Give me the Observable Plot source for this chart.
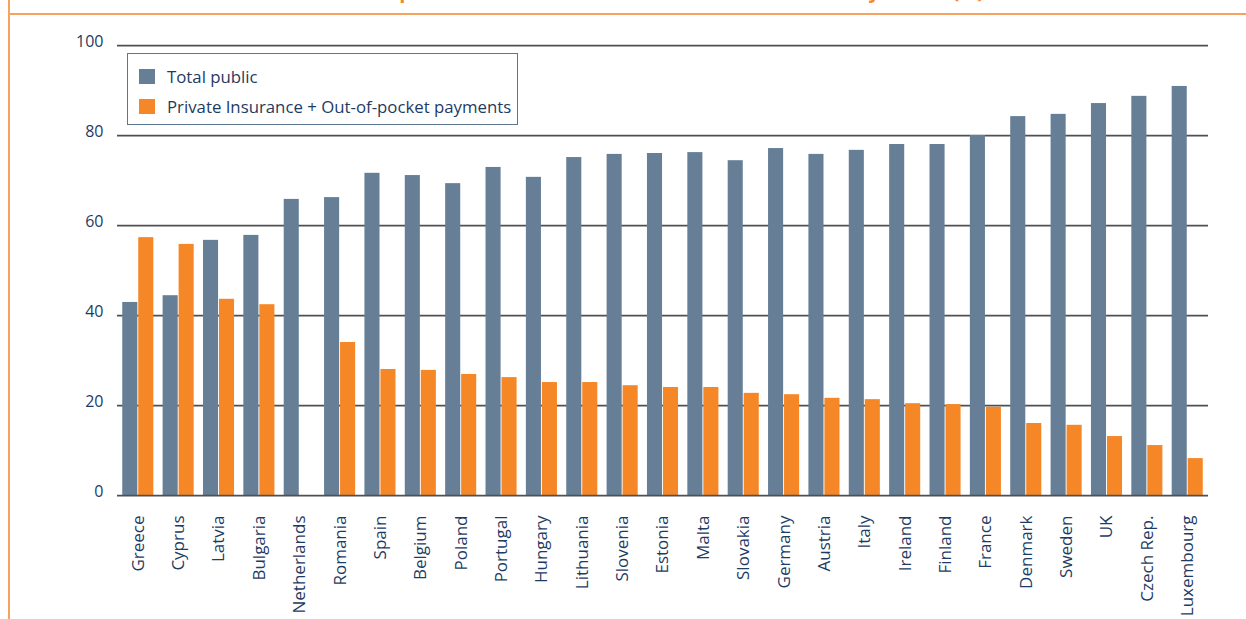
<!DOCTYPE html>
<html>
<head>
<meta charset="utf-8">
<script src="https://cdn.jsdelivr.net/npm/d3@7"></script>
<script src="https://cdn.jsdelivr.net/npm/@observablehq/plot@0.6"></script>
<style>
  html, body { margin: 0; padding: 0; background: #ffffff; }
  #wrap { position: relative; width: 1246px; height: 619px; overflow: hidden; font-family: "Open Sans", "Noto Sans", sans-serif; }
  #vline { position: absolute; left: 8px; top: 0; width: 2px; height: 619px; background: #f5a35e; }
  #hline { position: absolute; left: 9px; top: 13px; width: 1237px; height: 2px; background: #f5a35e; }
  #title { position: absolute; right: 262px; top: -19px; font-size: 20px; line-height: 20px; font-weight: bold; color: #f58727; white-space: nowrap; }
  #chart { position: absolute; left: 0; top: 0; }
  #legend { position: absolute; left: 127px; top: 53px; width: 391px; height: 72px; border: 1px solid #5d7792; background: #fff; box-sizing: border-box; }
  .row { position: absolute; left: 11px; height: 16px; display: flex; align-items: center; font-size: 16.8px; color: #1d3b63; white-space: nowrap; }
  .sw { width: 16px; height: 15px; margin-right: 12px; flex: none; }
</style>
</head>
<body>
<div id="wrap">
  <div id="vline"></div>
  <div id="hline"></div>
  <div id="title">Total expenditure on health in the EU Member States by sector (%)</div>
  <div id="chart"></div>
  <div id="legend"></div>
</div>
<script>
const countries = ["Greece","Cyprus","Latvia","Bulgaria","Netherlands","Romania","Spain","Belgium","Poland","Portugal","Hungary","Lithuania","Slovenia","Estonia","Malta","Slovakia","Germany","Austria","Italy","Ireland","Finland","France","Denmark","Sweden","UK","Czech Rep.","Luxembourg"];
const totalPublic = [42.9,44.4,56.7,57.8,65.8,66.2,71.6,71.1,69.3,72.9,70.7,75.1,75.8,76.0,76.2,74.4,77.1,75.8,76.7,78.0,78.0,80.0,84.2,84.7,87.1,88.7,90.9];
const privateOOP = [57.3,55.8,43.6,42.4,null,34.0,28.0,27.8,26.9,26.2,25.1,25.1,24.4,24.0,24.0,22.7,22.4,21.6,21.3,20.4,20.2,19.6,16.0,15.6,13.1,11.1,8.2];
const seriesNames = ["Total public", "Private Insurance + Out-of-pocket payments"];
const seriesColors = ["#667f97", "#f58727"];
const yTicks = [0, 20, 40, 60, 80, 100];

const data = countries.map((c, i) => ({country: c, pub: totalPublic[i], priv: privateOOP[i]}));
const textColor = "#1d3b63";

const chart = Plot.plot({
  width: 1246,
  height: 619,
  marginLeft: 117,
  marginRight: 38,
  marginTop: 45,
  marginBottom: 124,
  style: {fontFamily: "'Open Sans', 'Noto Sans', sans-serif", background: "transparent"},
  x: {domain: countries, paddingInner: 0.23, paddingOuter: 0.13, round: false, label: null},
  y: {domain: [0, 100], label: null},
  marks: [
    Plot.ruleY(yTicks.filter(d => d !== 0), {stroke: "#505050", strokeWidth: 1.75}),
    Plot.barY(data, {x: "country", y: "pub", fill: seriesColors[0], insetRight: 16}),
    Plot.barY(data.filter(d => d.priv != null), {x: "country", y: "priv", fill: seriesColors[1], insetLeft: 16}),
    Plot.ruleY([0], {stroke: "#505050", strokeWidth: 1.75}),
    Plot.axisY(yTicks, {tickSize: 0, tickPadding: 14, fontSize: 16, fill: textColor, dy: -4, label: null}),
    Plot.axisX({tickRotate: -90, tickSize: 0, tickPadding: 20, fontSize: 17, fill: textColor, label: null})
  ]
});
document.getElementById("chart").appendChild(chart);

const legend = document.getElementById("legend");
seriesNames.forEach((name, i) => {
  const row = document.createElement("div");
  row.className = "row";
  row.style.top = (14 + i * 30) + "px";
  const sw = document.createElement("div");
  sw.className = "sw";
  sw.style.background = seriesColors[i];
  const t = document.createElement("span");
  t.textContent = name;
  row.appendChild(sw);
  row.appendChild(t);
  legend.appendChild(row);
});
</script>
</body>
</html>
